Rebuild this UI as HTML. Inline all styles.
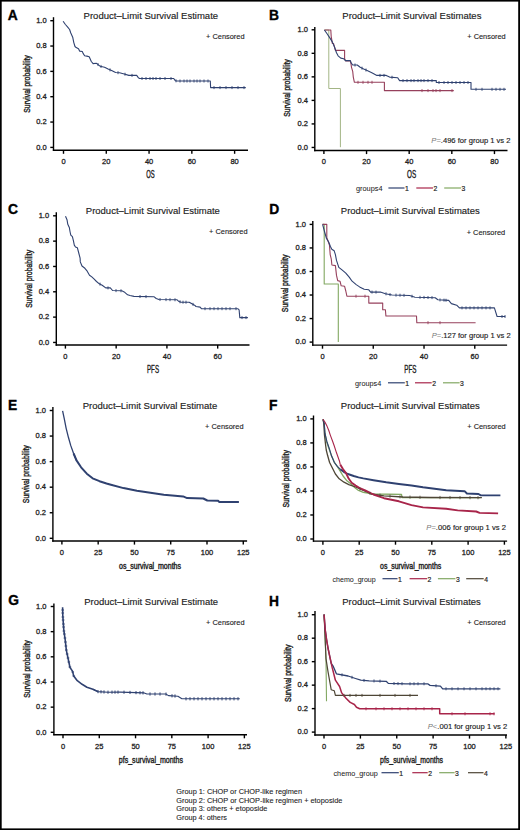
<!DOCTYPE html>
<html><head><meta charset="utf-8"><style>
html,body{margin:0;padding:0;background:#fff;}
body{width:520px;height:830px;overflow:hidden;}
svg{display:block;}
text{font-family:"Liberation Sans", sans-serif;}
</style></head><body>
<svg width="520" height="830" viewBox="0 0 520 830" font-family='"Liberation Sans", sans-serif'>
<rect x="0" y="0" width="520" height="830" fill="#fff"/>
<text x="7.86" y="19.60" font-size="13.8" text-anchor="start" font-weight="bold" fill="#000"  stroke="#000" stroke-width="0.35">A</text>
<text x="83.60" y="18.60" font-size="9.4" text-anchor="start" font-weight="normal" fill="#222" textLength="134.5" lengthAdjust="spacingAndGlyphs"  stroke="#222" stroke-width="0.15">Product–Limit Survival Estimate</text>
<text x="206.00" y="39.10" font-size="7.8" text-anchor="start" font-weight="normal" fill="#222" textLength="38.6" lengthAdjust="spacingAndGlyphs"  stroke="#222" stroke-width="0.12">+ Censored</text>
<line x1="53.50" y1="17.20" x2="53.50" y2="150.85" stroke="#000" stroke-width="1.4"/>
<line x1="50.30" y1="147.40" x2="53.50" y2="147.40" stroke="#000" stroke-width="1.4"/>
<text x="46.60" y="149.60" font-size="7.5" text-anchor="end" font-weight="normal" fill="#222"  stroke="#222" stroke-width="0.28">0.0</text>
<line x1="50.30" y1="122.06" x2="53.50" y2="122.06" stroke="#000" stroke-width="1.4"/>
<text x="46.60" y="124.26" font-size="7.5" text-anchor="end" font-weight="normal" fill="#222"  stroke="#222" stroke-width="0.28">0.2</text>
<line x1="50.30" y1="96.72" x2="53.50" y2="96.72" stroke="#000" stroke-width="1.4"/>
<text x="46.60" y="98.92" font-size="7.5" text-anchor="end" font-weight="normal" fill="#222"  stroke="#222" stroke-width="0.28">0.4</text>
<line x1="50.30" y1="71.38" x2="53.50" y2="71.38" stroke="#000" stroke-width="1.4"/>
<text x="46.60" y="73.58" font-size="7.5" text-anchor="end" font-weight="normal" fill="#222"  stroke="#222" stroke-width="0.28">0.6</text>
<line x1="50.30" y1="46.04" x2="53.50" y2="46.04" stroke="#000" stroke-width="1.4"/>
<text x="46.60" y="48.24" font-size="7.5" text-anchor="end" font-weight="normal" fill="#222"  stroke="#222" stroke-width="0.28">0.8</text>
<line x1="50.30" y1="20.70" x2="53.50" y2="20.70" stroke="#000" stroke-width="1.4"/>
<text x="46.60" y="22.90" font-size="7.5" text-anchor="end" font-weight="normal" fill="#222"  stroke="#222" stroke-width="0.28">1.0</text>
<line x1="52.85" y1="150.20" x2="248.00" y2="150.20" stroke="#000" stroke-width="1.4"/>
<line x1="63.50" y1="150.20" x2="63.50" y2="153.80" stroke="#000" stroke-width="1.4"/>
<text x="63.50" y="164.00" font-size="7.5" text-anchor="middle" font-weight="normal" fill="#222"  stroke="#222" stroke-width="0.28">0</text>
<line x1="106.28" y1="150.20" x2="106.28" y2="153.80" stroke="#000" stroke-width="1.4"/>
<text x="106.28" y="164.00" font-size="7.5" text-anchor="middle" font-weight="normal" fill="#222"  stroke="#222" stroke-width="0.28">20</text>
<line x1="149.06" y1="150.20" x2="149.06" y2="153.80" stroke="#000" stroke-width="1.4"/>
<text x="149.06" y="164.00" font-size="7.5" text-anchor="middle" font-weight="normal" fill="#222"  stroke="#222" stroke-width="0.28">40</text>
<line x1="191.84" y1="150.20" x2="191.84" y2="153.80" stroke="#000" stroke-width="1.4"/>
<text x="191.84" y="164.00" font-size="7.5" text-anchor="middle" font-weight="normal" fill="#222"  stroke="#222" stroke-width="0.28">60</text>
<line x1="234.62" y1="150.20" x2="234.62" y2="153.80" stroke="#000" stroke-width="1.4"/>
<text x="234.62" y="164.00" font-size="7.5" text-anchor="middle" font-weight="normal" fill="#222"  stroke="#222" stroke-width="0.28">80</text>
<text x="146.30" y="177.90" font-size="11" text-anchor="start" font-weight="normal" fill="#222" textLength="8.4" lengthAdjust="spacingAndGlyphs"  stroke="#222" stroke-width="0.4">OS</text>
<text transform="translate(29.70,84.00) rotate(-90)" x="0" y="0" font-size="9" text-anchor="middle" fill="#222" stroke="#222" stroke-width="0.4" textLength="57.5" lengthAdjust="spacingAndGlyphs">Survival probability</text>
<text x="269.10" y="19.60" font-size="13.8" text-anchor="start" font-weight="bold" fill="#000"  stroke="#000" stroke-width="0.35">B</text>
<text x="342.30" y="18.60" font-size="9.4" text-anchor="start" font-weight="normal" fill="#222" textLength="139.1" lengthAdjust="spacingAndGlyphs"  stroke="#222" stroke-width="0.15">Product–Limit Survival Estimates</text>
<text x="467.30" y="38.80" font-size="7.8" text-anchor="start" font-weight="normal" fill="#222" textLength="38.4" lengthAdjust="spacingAndGlyphs"  stroke="#222" stroke-width="0.12">+ Censored</text>
<line x1="314.80" y1="26.90" x2="314.80" y2="151.15" stroke="#000" stroke-width="1.4"/>
<line x1="311.60" y1="147.45" x2="314.80" y2="147.45" stroke="#000" stroke-width="1.4"/>
<text x="308.00" y="149.65" font-size="7.5" text-anchor="end" font-weight="normal" fill="#222"  stroke="#222" stroke-width="0.28">0.0</text>
<line x1="311.60" y1="123.92" x2="314.80" y2="123.92" stroke="#000" stroke-width="1.4"/>
<text x="308.00" y="126.12" font-size="7.5" text-anchor="end" font-weight="normal" fill="#222"  stroke="#222" stroke-width="0.28">0.2</text>
<line x1="311.60" y1="100.39" x2="314.80" y2="100.39" stroke="#000" stroke-width="1.4"/>
<text x="308.00" y="102.59" font-size="7.5" text-anchor="end" font-weight="normal" fill="#222"  stroke="#222" stroke-width="0.28">0.4</text>
<line x1="311.60" y1="76.86" x2="314.80" y2="76.86" stroke="#000" stroke-width="1.4"/>
<text x="308.00" y="79.06" font-size="7.5" text-anchor="end" font-weight="normal" fill="#222"  stroke="#222" stroke-width="0.28">0.6</text>
<line x1="311.60" y1="53.33" x2="314.80" y2="53.33" stroke="#000" stroke-width="1.4"/>
<text x="308.00" y="55.53" font-size="7.5" text-anchor="end" font-weight="normal" fill="#222"  stroke="#222" stroke-width="0.28">0.8</text>
<line x1="311.60" y1="29.80" x2="314.80" y2="29.80" stroke="#000" stroke-width="1.4"/>
<text x="308.00" y="32.00" font-size="7.5" text-anchor="end" font-weight="normal" fill="#222"  stroke="#222" stroke-width="0.28">1.0</text>
<line x1="314.15" y1="150.50" x2="507.50" y2="150.50" stroke="#000" stroke-width="1.4"/>
<line x1="323.90" y1="150.50" x2="323.90" y2="154.10" stroke="#000" stroke-width="1.4"/>
<text x="323.90" y="163.70" font-size="7.5" text-anchor="middle" font-weight="normal" fill="#222"  stroke="#222" stroke-width="0.28">0</text>
<line x1="366.54" y1="150.50" x2="366.54" y2="154.10" stroke="#000" stroke-width="1.4"/>
<text x="366.54" y="163.70" font-size="7.5" text-anchor="middle" font-weight="normal" fill="#222"  stroke="#222" stroke-width="0.28">20</text>
<line x1="409.18" y1="150.50" x2="409.18" y2="154.10" stroke="#000" stroke-width="1.4"/>
<text x="409.18" y="163.70" font-size="7.5" text-anchor="middle" font-weight="normal" fill="#222"  stroke="#222" stroke-width="0.28">40</text>
<line x1="451.82" y1="150.50" x2="451.82" y2="154.10" stroke="#000" stroke-width="1.4"/>
<text x="451.82" y="163.70" font-size="7.5" text-anchor="middle" font-weight="normal" fill="#222"  stroke="#222" stroke-width="0.28">60</text>
<line x1="494.46" y1="150.50" x2="494.46" y2="154.10" stroke="#000" stroke-width="1.4"/>
<text x="494.46" y="163.70" font-size="7.5" text-anchor="middle" font-weight="normal" fill="#222"  stroke="#222" stroke-width="0.28">80</text>
<text x="407.00" y="177.90" font-size="11" text-anchor="start" font-weight="normal" fill="#222" textLength="9.1" lengthAdjust="spacingAndGlyphs"  stroke="#222" stroke-width="0.4">OS</text>
<text transform="translate(290.30,88.00) rotate(-90)" x="0" y="0" font-size="9" text-anchor="middle" fill="#222" stroke="#222" stroke-width="0.4" textLength="57.5" lengthAdjust="spacingAndGlyphs">Survival probability</text>
<text x="7.95" y="214.40" font-size="13.8" text-anchor="start" font-weight="bold" fill="#000"  stroke="#000" stroke-width="0.35">C</text>
<text x="85.80" y="213.60" font-size="9.4" text-anchor="start" font-weight="normal" fill="#222" textLength="134.1" lengthAdjust="spacingAndGlyphs"  stroke="#222" stroke-width="0.15">Product–Limit Survival Estimate</text>
<text x="209.00" y="234.10" font-size="7.8" text-anchor="start" font-weight="normal" fill="#222" textLength="38.6" lengthAdjust="spacingAndGlyphs"  stroke="#222" stroke-width="0.12">+ Censored</text>
<line x1="56.30" y1="212.30" x2="56.30" y2="345.65" stroke="#000" stroke-width="1.4"/>
<line x1="53.10" y1="342.45" x2="56.30" y2="342.45" stroke="#000" stroke-width="1.4"/>
<text x="49.10" y="344.65" font-size="7.5" text-anchor="end" font-weight="normal" fill="#222"  stroke="#222" stroke-width="0.28">0.0</text>
<line x1="53.10" y1="317.12" x2="56.30" y2="317.12" stroke="#000" stroke-width="1.4"/>
<text x="49.10" y="319.32" font-size="7.5" text-anchor="end" font-weight="normal" fill="#222"  stroke="#222" stroke-width="0.28">0.2</text>
<line x1="53.10" y1="291.79" x2="56.30" y2="291.79" stroke="#000" stroke-width="1.4"/>
<text x="49.10" y="293.99" font-size="7.5" text-anchor="end" font-weight="normal" fill="#222"  stroke="#222" stroke-width="0.28">0.4</text>
<line x1="53.10" y1="266.46" x2="56.30" y2="266.46" stroke="#000" stroke-width="1.4"/>
<text x="49.10" y="268.66" font-size="7.5" text-anchor="end" font-weight="normal" fill="#222"  stroke="#222" stroke-width="0.28">0.6</text>
<line x1="53.10" y1="241.13" x2="56.30" y2="241.13" stroke="#000" stroke-width="1.4"/>
<text x="49.10" y="243.33" font-size="7.5" text-anchor="end" font-weight="normal" fill="#222"  stroke="#222" stroke-width="0.28">0.8</text>
<line x1="53.10" y1="215.80" x2="56.30" y2="215.80" stroke="#000" stroke-width="1.4"/>
<text x="49.10" y="218.00" font-size="7.5" text-anchor="end" font-weight="normal" fill="#222"  stroke="#222" stroke-width="0.28">1.0</text>
<line x1="55.65" y1="345.00" x2="249.50" y2="345.00" stroke="#000" stroke-width="1.4"/>
<line x1="65.40" y1="345.00" x2="65.40" y2="348.60" stroke="#000" stroke-width="1.4"/>
<text x="65.40" y="358.60" font-size="7.5" text-anchor="middle" font-weight="normal" fill="#222"  stroke="#222" stroke-width="0.28">0</text>
<line x1="116.16" y1="345.00" x2="116.16" y2="348.60" stroke="#000" stroke-width="1.4"/>
<text x="116.16" y="358.60" font-size="7.5" text-anchor="middle" font-weight="normal" fill="#222"  stroke="#222" stroke-width="0.28">20</text>
<line x1="166.92" y1="345.00" x2="166.92" y2="348.60" stroke="#000" stroke-width="1.4"/>
<text x="166.92" y="358.60" font-size="7.5" text-anchor="middle" font-weight="normal" fill="#222"  stroke="#222" stroke-width="0.28">40</text>
<line x1="217.68" y1="345.00" x2="217.68" y2="348.60" stroke="#000" stroke-width="1.4"/>
<text x="217.68" y="358.60" font-size="7.5" text-anchor="middle" font-weight="normal" fill="#222"  stroke="#222" stroke-width="0.28">60</text>
<text x="147.00" y="372.90" font-size="11" text-anchor="start" font-weight="normal" fill="#222" textLength="12.0" lengthAdjust="spacingAndGlyphs"  stroke="#222" stroke-width="0.4">PFS</text>
<text transform="translate(31.60,278.80) rotate(-90)" x="0" y="0" font-size="9" text-anchor="middle" fill="#222" stroke="#222" stroke-width="0.4" textLength="58.0" lengthAdjust="spacingAndGlyphs">Survival probability</text>
<text x="269.30" y="214.30" font-size="13.8" text-anchor="start" font-weight="bold" fill="#000"  stroke="#000" stroke-width="0.35">D</text>
<text x="340.80" y="213.60" font-size="9.4" text-anchor="start" font-weight="normal" fill="#222" textLength="139.0" lengthAdjust="spacingAndGlyphs"  stroke="#222" stroke-width="0.15">Product–Limit Survival Estimates</text>
<text x="466.70" y="234.50" font-size="7.8" text-anchor="start" font-weight="normal" fill="#222" textLength="38.5" lengthAdjust="spacingAndGlyphs"  stroke="#222" stroke-width="0.12">+ Censored</text>
<line x1="312.80" y1="221.10" x2="312.80" y2="345.75" stroke="#000" stroke-width="1.4"/>
<line x1="309.60" y1="342.10" x2="312.80" y2="342.10" stroke="#000" stroke-width="1.4"/>
<text x="306.00" y="344.30" font-size="7.5" text-anchor="end" font-weight="normal" fill="#222"  stroke="#222" stroke-width="0.28">0.0</text>
<line x1="309.60" y1="318.56" x2="312.80" y2="318.56" stroke="#000" stroke-width="1.4"/>
<text x="306.00" y="320.76" font-size="7.5" text-anchor="end" font-weight="normal" fill="#222"  stroke="#222" stroke-width="0.28">0.2</text>
<line x1="309.60" y1="295.02" x2="312.80" y2="295.02" stroke="#000" stroke-width="1.4"/>
<text x="306.00" y="297.22" font-size="7.5" text-anchor="end" font-weight="normal" fill="#222"  stroke="#222" stroke-width="0.28">0.4</text>
<line x1="309.60" y1="271.48" x2="312.80" y2="271.48" stroke="#000" stroke-width="1.4"/>
<text x="306.00" y="273.68" font-size="7.5" text-anchor="end" font-weight="normal" fill="#222"  stroke="#222" stroke-width="0.28">0.6</text>
<line x1="309.60" y1="247.94" x2="312.80" y2="247.94" stroke="#000" stroke-width="1.4"/>
<text x="306.00" y="250.14" font-size="7.5" text-anchor="end" font-weight="normal" fill="#222"  stroke="#222" stroke-width="0.28">0.8</text>
<line x1="309.60" y1="224.40" x2="312.80" y2="224.40" stroke="#000" stroke-width="1.4"/>
<text x="306.00" y="226.60" font-size="7.5" text-anchor="end" font-weight="normal" fill="#222"  stroke="#222" stroke-width="0.28">1.0</text>
<line x1="312.15" y1="345.10" x2="507.10" y2="345.10" stroke="#000" stroke-width="1.4"/>
<line x1="322.50" y1="345.10" x2="322.50" y2="348.70" stroke="#000" stroke-width="1.4"/>
<text x="322.50" y="358.60" font-size="7.5" text-anchor="middle" font-weight="normal" fill="#222"  stroke="#222" stroke-width="0.28">0</text>
<line x1="373.26" y1="345.10" x2="373.26" y2="348.70" stroke="#000" stroke-width="1.4"/>
<text x="373.26" y="358.60" font-size="7.5" text-anchor="middle" font-weight="normal" fill="#222"  stroke="#222" stroke-width="0.28">20</text>
<line x1="424.02" y1="345.10" x2="424.02" y2="348.70" stroke="#000" stroke-width="1.4"/>
<text x="424.02" y="358.60" font-size="7.5" text-anchor="middle" font-weight="normal" fill="#222"  stroke="#222" stroke-width="0.28">40</text>
<line x1="474.78" y1="345.10" x2="474.78" y2="348.70" stroke="#000" stroke-width="1.4"/>
<text x="474.78" y="358.60" font-size="7.5" text-anchor="middle" font-weight="normal" fill="#222"  stroke="#222" stroke-width="0.28">60</text>
<text x="404.30" y="372.70" font-size="11" text-anchor="start" font-weight="normal" fill="#222" textLength="12.2" lengthAdjust="spacingAndGlyphs"  stroke="#222" stroke-width="0.4">PFS</text>
<text transform="translate(288.30,283.40) rotate(-90)" x="0" y="0" font-size="9" text-anchor="middle" fill="#222" stroke="#222" stroke-width="0.4" textLength="57.5" lengthAdjust="spacingAndGlyphs">Survival probability</text>
<text x="7.90" y="409.60" font-size="13.8" text-anchor="start" font-weight="bold" fill="#000"  stroke="#000" stroke-width="0.35">E</text>
<text x="82.70" y="408.60" font-size="9.4" text-anchor="start" font-weight="normal" fill="#222" textLength="134.5" lengthAdjust="spacingAndGlyphs"  stroke="#222" stroke-width="0.15">Product–Limit Survival Estimate</text>
<text x="205.00" y="429.10" font-size="7.8" text-anchor="start" font-weight="normal" fill="#222" textLength="38.6" lengthAdjust="spacingAndGlyphs"  stroke="#222" stroke-width="0.12">+ Censored</text>
<line x1="52.90" y1="406.90" x2="52.90" y2="541.65" stroke="#000" stroke-width="1.4"/>
<line x1="49.70" y1="538.30" x2="52.90" y2="538.30" stroke="#000" stroke-width="1.4"/>
<text x="46.00" y="540.50" font-size="7.5" text-anchor="end" font-weight="normal" fill="#222"  stroke="#222" stroke-width="0.28">0.0</text>
<line x1="49.70" y1="512.74" x2="52.90" y2="512.74" stroke="#000" stroke-width="1.4"/>
<text x="46.00" y="514.94" font-size="7.5" text-anchor="end" font-weight="normal" fill="#222"  stroke="#222" stroke-width="0.28">0.2</text>
<line x1="49.70" y1="487.18" x2="52.90" y2="487.18" stroke="#000" stroke-width="1.4"/>
<text x="46.00" y="489.38" font-size="7.5" text-anchor="end" font-weight="normal" fill="#222"  stroke="#222" stroke-width="0.28">0.4</text>
<line x1="49.70" y1="461.62" x2="52.90" y2="461.62" stroke="#000" stroke-width="1.4"/>
<text x="46.00" y="463.82" font-size="7.5" text-anchor="end" font-weight="normal" fill="#222"  stroke="#222" stroke-width="0.28">0.6</text>
<line x1="49.70" y1="436.06" x2="52.90" y2="436.06" stroke="#000" stroke-width="1.4"/>
<text x="46.00" y="438.26" font-size="7.5" text-anchor="end" font-weight="normal" fill="#222"  stroke="#222" stroke-width="0.28">0.8</text>
<line x1="49.70" y1="410.50" x2="52.90" y2="410.50" stroke="#000" stroke-width="1.4"/>
<text x="46.00" y="412.70" font-size="7.5" text-anchor="end" font-weight="normal" fill="#222"  stroke="#222" stroke-width="0.28">1.0</text>
<line x1="52.25" y1="541.00" x2="247.10" y2="541.00" stroke="#000" stroke-width="1.4"/>
<line x1="61.90" y1="541.00" x2="61.90" y2="544.60" stroke="#000" stroke-width="1.4"/>
<text x="61.90" y="554.60" font-size="7.5" text-anchor="middle" font-weight="normal" fill="#222"  stroke="#222" stroke-width="0.28">0</text>
<line x1="98.17" y1="541.00" x2="98.17" y2="544.60" stroke="#000" stroke-width="1.4"/>
<text x="98.17" y="554.60" font-size="7.5" text-anchor="middle" font-weight="normal" fill="#222"  stroke="#222" stroke-width="0.28">25</text>
<line x1="134.45" y1="541.00" x2="134.45" y2="544.60" stroke="#000" stroke-width="1.4"/>
<text x="134.45" y="554.60" font-size="7.5" text-anchor="middle" font-weight="normal" fill="#222"  stroke="#222" stroke-width="0.28">50</text>
<line x1="170.72" y1="541.00" x2="170.72" y2="544.60" stroke="#000" stroke-width="1.4"/>
<text x="170.72" y="554.60" font-size="7.5" text-anchor="middle" font-weight="normal" fill="#222"  stroke="#222" stroke-width="0.28">75</text>
<line x1="207.00" y1="541.00" x2="207.00" y2="544.60" stroke="#000" stroke-width="1.4"/>
<text x="207.00" y="554.60" font-size="7.5" text-anchor="middle" font-weight="normal" fill="#222"  stroke="#222" stroke-width="0.28">100</text>
<line x1="243.28" y1="541.00" x2="243.28" y2="544.60" stroke="#000" stroke-width="1.4"/>
<text x="243.28" y="554.60" font-size="7.5" text-anchor="middle" font-weight="normal" fill="#222"  stroke="#222" stroke-width="0.28">125</text>
<text x="119.00" y="568.50" font-size="8.3" text-anchor="start" font-weight="normal" fill="#222" textLength="62.0" lengthAdjust="spacingAndGlyphs"  stroke="#222" stroke-width="0.4">os_survival_months</text>
<text transform="translate(28.60,474.20) rotate(-90)" x="0" y="0" font-size="9" text-anchor="middle" fill="#222" stroke="#222" stroke-width="0.4" textLength="58.0" lengthAdjust="spacingAndGlyphs">Survival probability</text>
<text x="269.10" y="409.60" font-size="13.8" text-anchor="start" font-weight="bold" fill="#000"  stroke="#000" stroke-width="0.35">F</text>
<text x="340.80" y="408.60" font-size="9.4" text-anchor="start" font-weight="normal" fill="#222" textLength="139.0" lengthAdjust="spacingAndGlyphs"  stroke="#222" stroke-width="0.15">Product–Limit Survival Estimates</text>
<text x="467.30" y="429.10" font-size="7.8" text-anchor="start" font-weight="normal" fill="#222" textLength="38.4" lengthAdjust="spacingAndGlyphs"  stroke="#222" stroke-width="0.12">+ Censored</text>
<line x1="313.50" y1="415.50" x2="313.50" y2="541.75" stroke="#000" stroke-width="1.4"/>
<line x1="310.30" y1="539.00" x2="313.50" y2="539.00" stroke="#000" stroke-width="1.4"/>
<text x="306.60" y="541.20" font-size="7.5" text-anchor="end" font-weight="normal" fill="#222"  stroke="#222" stroke-width="0.28">0.0</text>
<line x1="310.30" y1="514.98" x2="313.50" y2="514.98" stroke="#000" stroke-width="1.4"/>
<text x="306.60" y="517.18" font-size="7.5" text-anchor="end" font-weight="normal" fill="#222"  stroke="#222" stroke-width="0.28">0.2</text>
<line x1="310.30" y1="490.96" x2="313.50" y2="490.96" stroke="#000" stroke-width="1.4"/>
<text x="306.60" y="493.16" font-size="7.5" text-anchor="end" font-weight="normal" fill="#222"  stroke="#222" stroke-width="0.28">0.4</text>
<line x1="310.30" y1="466.94" x2="313.50" y2="466.94" stroke="#000" stroke-width="1.4"/>
<text x="306.60" y="469.14" font-size="7.5" text-anchor="end" font-weight="normal" fill="#222"  stroke="#222" stroke-width="0.28">0.6</text>
<line x1="310.30" y1="442.92" x2="313.50" y2="442.92" stroke="#000" stroke-width="1.4"/>
<text x="306.60" y="445.12" font-size="7.5" text-anchor="end" font-weight="normal" fill="#222"  stroke="#222" stroke-width="0.28">0.8</text>
<line x1="310.30" y1="418.90" x2="313.50" y2="418.90" stroke="#000" stroke-width="1.4"/>
<text x="306.60" y="421.10" font-size="7.5" text-anchor="end" font-weight="normal" fill="#222"  stroke="#222" stroke-width="0.28">1.0</text>
<line x1="312.85" y1="541.10" x2="507.10" y2="541.10" stroke="#000" stroke-width="1.4"/>
<line x1="322.90" y1="541.10" x2="322.90" y2="544.70" stroke="#000" stroke-width="1.4"/>
<text x="322.90" y="554.60" font-size="7.5" text-anchor="middle" font-weight="normal" fill="#222"  stroke="#222" stroke-width="0.28">0</text>
<line x1="359.20" y1="541.10" x2="359.20" y2="544.70" stroke="#000" stroke-width="1.4"/>
<text x="359.20" y="554.60" font-size="7.5" text-anchor="middle" font-weight="normal" fill="#222"  stroke="#222" stroke-width="0.28">25</text>
<line x1="395.50" y1="541.10" x2="395.50" y2="544.70" stroke="#000" stroke-width="1.4"/>
<text x="395.50" y="554.60" font-size="7.5" text-anchor="middle" font-weight="normal" fill="#222"  stroke="#222" stroke-width="0.28">50</text>
<line x1="431.80" y1="541.10" x2="431.80" y2="544.70" stroke="#000" stroke-width="1.4"/>
<text x="431.80" y="554.60" font-size="7.5" text-anchor="middle" font-weight="normal" fill="#222"  stroke="#222" stroke-width="0.28">75</text>
<line x1="468.10" y1="541.10" x2="468.10" y2="544.70" stroke="#000" stroke-width="1.4"/>
<text x="468.10" y="554.60" font-size="7.5" text-anchor="middle" font-weight="normal" fill="#222"  stroke="#222" stroke-width="0.28">100</text>
<line x1="504.40" y1="541.10" x2="504.40" y2="544.70" stroke="#000" stroke-width="1.4"/>
<text x="504.40" y="554.60" font-size="7.5" text-anchor="middle" font-weight="normal" fill="#222"  stroke="#222" stroke-width="0.28">125</text>
<text x="380.10" y="569.00" font-size="8.5" text-anchor="start" font-weight="normal" fill="#222" textLength="61.1" lengthAdjust="spacingAndGlyphs"  stroke="#222" stroke-width="0.4">os_survival_months</text>
<text transform="translate(289.40,478.80) rotate(-90)" x="0" y="0" font-size="9" text-anchor="middle" fill="#222" stroke="#222" stroke-width="0.4" textLength="57.5" lengthAdjust="spacingAndGlyphs">Survival probability</text>
<text x="8.25" y="605.40" font-size="13.8" text-anchor="start" font-weight="bold" fill="#000"  stroke="#000" stroke-width="0.35">G</text>
<text x="84.20" y="605.20" font-size="9.4" text-anchor="start" font-weight="normal" fill="#222" textLength="133.9" lengthAdjust="spacingAndGlyphs"  stroke="#222" stroke-width="0.15">Product–Limit Survival Estimate</text>
<text x="206.00" y="625.10" font-size="7.8" text-anchor="start" font-weight="normal" fill="#222" textLength="38.6" lengthAdjust="spacingAndGlyphs"  stroke="#222" stroke-width="0.12">+ Censored</text>
<line x1="53.90" y1="603.50" x2="53.90" y2="735.35" stroke="#000" stroke-width="1.4"/>
<line x1="50.70" y1="732.30" x2="53.90" y2="732.30" stroke="#000" stroke-width="1.4"/>
<text x="46.55" y="734.50" font-size="7.5" text-anchor="end" font-weight="normal" fill="#222"  stroke="#222" stroke-width="0.28">0.0</text>
<line x1="50.70" y1="707.14" x2="53.90" y2="707.14" stroke="#000" stroke-width="1.4"/>
<text x="46.55" y="709.34" font-size="7.5" text-anchor="end" font-weight="normal" fill="#222"  stroke="#222" stroke-width="0.28">0.2</text>
<line x1="50.70" y1="681.98" x2="53.90" y2="681.98" stroke="#000" stroke-width="1.4"/>
<text x="46.55" y="684.18" font-size="7.5" text-anchor="end" font-weight="normal" fill="#222"  stroke="#222" stroke-width="0.28">0.4</text>
<line x1="50.70" y1="656.82" x2="53.90" y2="656.82" stroke="#000" stroke-width="1.4"/>
<text x="46.55" y="659.02" font-size="7.5" text-anchor="end" font-weight="normal" fill="#222"  stroke="#222" stroke-width="0.28">0.6</text>
<line x1="50.70" y1="631.66" x2="53.90" y2="631.66" stroke="#000" stroke-width="1.4"/>
<text x="46.55" y="633.86" font-size="7.5" text-anchor="end" font-weight="normal" fill="#222"  stroke="#222" stroke-width="0.28">0.8</text>
<line x1="50.70" y1="606.50" x2="53.90" y2="606.50" stroke="#000" stroke-width="1.4"/>
<text x="46.55" y="608.70" font-size="7.5" text-anchor="end" font-weight="normal" fill="#222"  stroke="#222" stroke-width="0.28">1.0</text>
<line x1="53.25" y1="734.70" x2="247.00" y2="734.70" stroke="#000" stroke-width="1.4"/>
<line x1="63.00" y1="734.70" x2="63.00" y2="738.30" stroke="#000" stroke-width="1.4"/>
<text x="63.00" y="748.60" font-size="7.5" text-anchor="middle" font-weight="normal" fill="#222"  stroke="#222" stroke-width="0.28">0</text>
<line x1="99.28" y1="734.70" x2="99.28" y2="738.30" stroke="#000" stroke-width="1.4"/>
<text x="99.28" y="748.60" font-size="7.5" text-anchor="middle" font-weight="normal" fill="#222"  stroke="#222" stroke-width="0.28">25</text>
<line x1="135.55" y1="734.70" x2="135.55" y2="738.30" stroke="#000" stroke-width="1.4"/>
<text x="135.55" y="748.60" font-size="7.5" text-anchor="middle" font-weight="normal" fill="#222"  stroke="#222" stroke-width="0.28">50</text>
<line x1="171.82" y1="734.70" x2="171.82" y2="738.30" stroke="#000" stroke-width="1.4"/>
<text x="171.82" y="748.60" font-size="7.5" text-anchor="middle" font-weight="normal" fill="#222"  stroke="#222" stroke-width="0.28">75</text>
<line x1="208.10" y1="734.70" x2="208.10" y2="738.30" stroke="#000" stroke-width="1.4"/>
<text x="208.10" y="748.60" font-size="7.5" text-anchor="middle" font-weight="normal" fill="#222"  stroke="#222" stroke-width="0.28">100</text>
<line x1="244.38" y1="734.70" x2="244.38" y2="738.30" stroke="#000" stroke-width="1.4"/>
<text x="244.38" y="748.60" font-size="7.5" text-anchor="middle" font-weight="normal" fill="#222"  stroke="#222" stroke-width="0.28">125</text>
<text x="118.80" y="762.60" font-size="9.2" text-anchor="start" font-weight="normal" fill="#222" textLength="64.2" lengthAdjust="spacingAndGlyphs"  stroke="#222" stroke-width="0.4">pfs_survival_months</text>
<text transform="translate(29.70,669.00) rotate(-90)" x="0" y="0" font-size="9" text-anchor="middle" fill="#222" stroke="#222" stroke-width="0.4" textLength="57.5" lengthAdjust="spacingAndGlyphs">Survival probability</text>
<text x="269.10" y="605.70" font-size="13.8" text-anchor="start" font-weight="bold" fill="#000"  stroke="#000" stroke-width="0.35">H</text>
<text x="342.30" y="605.20" font-size="9.4" text-anchor="start" font-weight="normal" fill="#222" textLength="138.5" lengthAdjust="spacingAndGlyphs"  stroke="#222" stroke-width="0.15">Product–Limit Survival Estimates</text>
<text x="467.30" y="625.10" font-size="7.8" text-anchor="start" font-weight="normal" fill="#222" textLength="38.4" lengthAdjust="spacingAndGlyphs"  stroke="#222" stroke-width="0.12">+ Censored</text>
<line x1="315.00" y1="611.10" x2="315.00" y2="735.65" stroke="#000" stroke-width="1.4"/>
<line x1="311.80" y1="732.10" x2="315.00" y2="732.10" stroke="#000" stroke-width="1.4"/>
<text x="308.00" y="734.30" font-size="7.5" text-anchor="end" font-weight="normal" fill="#222"  stroke="#222" stroke-width="0.28">0.0</text>
<line x1="311.80" y1="708.62" x2="315.00" y2="708.62" stroke="#000" stroke-width="1.4"/>
<text x="308.00" y="710.82" font-size="7.5" text-anchor="end" font-weight="normal" fill="#222"  stroke="#222" stroke-width="0.28">0.2</text>
<line x1="311.80" y1="685.14" x2="315.00" y2="685.14" stroke="#000" stroke-width="1.4"/>
<text x="308.00" y="687.34" font-size="7.5" text-anchor="end" font-weight="normal" fill="#222"  stroke="#222" stroke-width="0.28">0.4</text>
<line x1="311.80" y1="661.66" x2="315.00" y2="661.66" stroke="#000" stroke-width="1.4"/>
<text x="308.00" y="663.86" font-size="7.5" text-anchor="end" font-weight="normal" fill="#222"  stroke="#222" stroke-width="0.28">0.6</text>
<line x1="311.80" y1="638.18" x2="315.00" y2="638.18" stroke="#000" stroke-width="1.4"/>
<text x="308.00" y="640.38" font-size="7.5" text-anchor="end" font-weight="normal" fill="#222"  stroke="#222" stroke-width="0.28">0.8</text>
<line x1="311.80" y1="614.70" x2="315.00" y2="614.70" stroke="#000" stroke-width="1.4"/>
<text x="308.00" y="616.90" font-size="7.5" text-anchor="end" font-weight="normal" fill="#222"  stroke="#222" stroke-width="0.28">1.0</text>
<line x1="314.35" y1="735.00" x2="507.00" y2="735.00" stroke="#000" stroke-width="1.4"/>
<line x1="324.00" y1="735.00" x2="324.00" y2="738.60" stroke="#000" stroke-width="1.4"/>
<text x="324.00" y="748.70" font-size="7.5" text-anchor="middle" font-weight="normal" fill="#222"  stroke="#222" stroke-width="0.28">0</text>
<line x1="360.38" y1="735.00" x2="360.38" y2="738.60" stroke="#000" stroke-width="1.4"/>
<text x="360.38" y="748.70" font-size="7.5" text-anchor="middle" font-weight="normal" fill="#222"  stroke="#222" stroke-width="0.28">25</text>
<line x1="396.75" y1="735.00" x2="396.75" y2="738.60" stroke="#000" stroke-width="1.4"/>
<text x="396.75" y="748.70" font-size="7.5" text-anchor="middle" font-weight="normal" fill="#222"  stroke="#222" stroke-width="0.28">50</text>
<line x1="433.12" y1="735.00" x2="433.12" y2="738.60" stroke="#000" stroke-width="1.4"/>
<text x="433.12" y="748.70" font-size="7.5" text-anchor="middle" font-weight="normal" fill="#222"  stroke="#222" stroke-width="0.28">75</text>
<line x1="469.50" y1="735.00" x2="469.50" y2="738.60" stroke="#000" stroke-width="1.4"/>
<text x="469.50" y="748.70" font-size="7.5" text-anchor="middle" font-weight="normal" fill="#222"  stroke="#222" stroke-width="0.28">100</text>
<line x1="505.88" y1="735.00" x2="505.88" y2="738.60" stroke="#000" stroke-width="1.4"/>
<text x="505.88" y="748.70" font-size="7.5" text-anchor="middle" font-weight="normal" fill="#222"  stroke="#222" stroke-width="0.28">125</text>
<text x="380.10" y="763.20" font-size="9.2" text-anchor="start" font-weight="normal" fill="#222" textLength="62.9" lengthAdjust="spacingAndGlyphs"  stroke="#222" stroke-width="0.4">pfs_survival_months</text>
<text transform="translate(290.80,673.30) rotate(-90)" x="0" y="0" font-size="9" text-anchor="middle" fill="#222" stroke="#222" stroke-width="0.4" textLength="57.5" lengthAdjust="spacingAndGlyphs">Survival probability</text>
<polyline points="63.10,21.20 65.40,24.50 67.70,27.20 69.60,29.50 70.80,33.00 72.70,37.20 73.80,42.60 75.00,46.50 76.20,47.60 78.50,48.80 79.60,51.10 82.30,51.50 83.10,53.40 84.60,55.70 86.90,56.10 89.20,56.80 91.30,61.50 93.10,63.60 96.50,63.30 100.00,66.20 104.60,67.30 108.10,69.00 112.10,70.80 115.60,72.50 119.60,72.80 124.20,74.00 128.80,75.40 136.70,75.40 138.10,77.40 139.40,78.50 173.70,78.50 175.10,80.40 176.40,81.00 210.30,81.00 210.60,87.60 245.80,87.60" fill="none" stroke="#2f4170" stroke-width="1.1" stroke-linejoin="round" />
<path d="M98.00,63.04v3.00M101.00,64.94v3.00M110.00,68.36v3.00M118.00,71.18v3.00M125.00,72.74v3.00M132.00,73.90v3.00M142.00,77.00v3.00M146.00,77.00v3.00M150.00,77.00v3.00M153.00,77.00v3.00M156.00,77.00v3.00M160.00,77.00v3.00M165.00,77.00v3.00M171.00,77.00v3.00M176.00,79.32v3.00M180.00,79.50v3.00M184.00,79.50v3.00M187.00,79.50v3.00M190.00,79.50v3.00M194.00,79.50v3.00M197.00,79.50v3.00M200.00,79.50v3.00M204.00,79.50v3.00M208.00,79.50v3.00M214.00,86.10v3.00M220.00,86.10v3.00M226.00,86.10v3.00M232.00,86.10v3.00M238.00,86.10v3.00M244.00,86.10v3.00" stroke="#2f4170" stroke-width="0.9" fill="none"/>
<polyline points="324.40,30.00 328.80,30.00 328.80,88.50 340.40,88.50 340.40,147.20" fill="none" stroke="#a3b585" stroke-width="1.0" stroke-linejoin="round" />
<polyline points="324.40,30.00 330.80,30.00 331.20,36.50 331.90,40.40 332.30,43.50 333.50,43.50 334.20,45.80 335.40,50.40 344.60,50.40 344.60,58.70 345.80,61.00 350.40,61.00 351.00,63.80 351.50,67.30 352.70,71.30 353.30,77.10 354.40,82.30 384.40,82.30 384.40,90.60 453.80,90.60" fill="none" stroke="#96405c" stroke-width="1.1" stroke-linejoin="round" />
<polyline points="324.40,30.00 326.90,33.50 330.00,38.10 332.30,41.90 334.60,47.30 336.50,52.70 338.10,55.80 340.80,58.10 343.80,58.80 345.40,60.60 350.40,60.60 351.00,62.70 352.70,65.00 357.30,65.00 360.20,67.30 363.70,69.00 367.70,70.80 372.30,73.10 376.90,75.40 386.20,75.40 389.60,77.10 397.70,77.70 399.60,80.60 436.30,80.60 436.30,82.50 471.00,82.50 471.00,89.30 506.00,89.30" fill="none" stroke="#2f4170" stroke-width="1.1" stroke-linejoin="round" />
<path d="M355.00,63.50v3.00M362.00,66.67v3.00M366.00,68.53v3.00M380.00,73.90v3.00M384.00,73.90v3.00M392.00,75.78v3.00M403.00,79.10v3.00M407.00,79.10v3.00M411.00,79.10v3.00M414.00,79.10v3.00M418.00,79.10v3.00M421.00,79.10v3.00M424.00,79.10v3.00M428.00,79.10v3.00M432.00,79.10v3.00M439.00,81.00v3.00M444.00,81.00v3.00M448.00,81.00v3.00M452.00,81.00v3.00M456.00,81.00v3.00M460.00,81.00v3.00M464.00,81.00v3.00M468.00,81.00v3.00M476.00,87.80v3.00M482.00,87.80v3.00M492.00,87.80v3.00M496.00,87.80v3.00M500.00,87.80v3.00M504.00,87.80v3.00" stroke="#2f4170" stroke-width="0.9" fill="none"/>
<path d="M358.00,80.80v3.00M363.00,80.80v3.00M368.00,80.80v3.00M372.00,80.80v3.00M422.00,89.10v3.00M428.00,89.10v3.00M433.00,89.10v3.00M436.00,89.10v3.00M440.00,89.10v3.00M452.00,89.10v3.00" stroke="#96405c" stroke-width="0.9" fill="none"/>
<polyline points="65.50,216.20 67.00,219.70 67.80,224.30 69.30,227.40 70.10,232.00 70.80,235.10 72.40,236.60 73.50,241.20 74.30,245.10 75.50,247.00 77.40,247.80 78.50,252.00 80.10,258.20 80.30,261.90 82.00,266.00 84.90,268.30 87.20,271.20 89.50,275.20 91.80,276.90 94.20,279.20 96.50,281.50 99.30,283.80 102.20,285.20 105.70,287.90 110.30,287.90 112.60,290.50 121.80,290.80 124.20,291.90 127.60,294.80 130.00,295.50 134.00,296.40 154.20,296.80 156.20,298.50 158.90,299.50 177.10,299.80 178.50,301.20 181.10,302.20 189.20,302.20 191.90,303.80 194.60,305.20 196.00,306.50 200.10,307.10 201.40,308.70 237.80,308.70 239.10,309.80 239.80,317.60 247.90,317.60" fill="none" stroke="#2f4170" stroke-width="1.1" stroke-linejoin="round" />
<path d="M100.00,282.64v3.00M108.00,286.40v3.00M116.00,289.11v3.00M121.00,289.27v3.00M140.00,295.02v3.00M146.00,295.14v3.00M160.00,298.02v3.00M166.00,298.12v3.00M170.00,298.18v3.00M175.00,298.27v3.00M180.00,300.28v3.00M183.00,300.70v3.00M186.00,300.70v3.00M193.00,302.87v3.00M205.00,307.20v3.00M210.00,307.20v3.00M214.00,307.20v3.00M218.00,307.20v3.00M222.00,307.20v3.00M226.00,307.20v3.00M230.00,307.20v3.00M236.00,307.20v3.00M242.00,316.10v3.00M246.00,316.10v3.00" stroke="#2f4170" stroke-width="0.9" fill="none"/>
<polyline points="322.60,224.40 324.20,224.40 324.20,284.00 338.30,284.00 338.30,342.10" fill="none" stroke="#82a862" stroke-width="1.1" stroke-linejoin="round" />
<polyline points="322.60,224.40 326.80,224.40 326.80,237.70 328.00,240.80 329.50,245.40 329.90,250.80 330.20,254.60 331.30,259.20 331.90,265.00 335.40,265.60 336.50,275.40 337.70,280.60 340.00,281.20 341.20,285.80 344.60,286.30 345.80,291.00 346.90,296.20 368.80,296.20 368.80,303.10 382.70,303.10 382.70,309.80 385.40,309.80 385.90,316.00 416.50,316.00 416.80,322.70 475.60,322.70" fill="none" stroke="#96405c" stroke-width="1.1" stroke-linejoin="round" />
<polyline points="322.60,224.40 324.50,231.50 326.50,238.50 328.80,242.30 330.30,246.20 331.80,249.20 334.20,250.80 335.40,254.60 336.50,260.40 338.80,267.30 342.30,270.20 345.80,273.10 349.20,277.10 352.10,281.20 356.20,284.60 359.60,286.90 364.20,289.20 368.80,289.80 370.60,292.10 380.40,292.10 385.40,293.70 392.10,295.00 409.60,295.50 415.00,297.20 435.20,297.70 437.90,299.80 448.70,300.40 451.40,303.60 456.70,305.20 459.40,307.90 494.40,307.90 497.10,316.50 505.20,316.50" fill="none" stroke="#2f4170" stroke-width="1.1" stroke-linejoin="round" />
<path d="M372.00,290.60v3.00M376.00,290.60v3.00M386.00,292.32v3.00M390.00,293.09v3.00M396.00,293.61v3.00M400.00,293.73v3.00M404.00,293.84v3.00M412.00,294.76v3.00M420.00,295.82v3.00M424.00,295.92v3.00M428.00,296.02v3.00M432.00,296.12v3.00M440.00,298.42v3.00M444.00,298.64v3.00M446.00,298.75v3.00M462.00,306.40v3.00M466.00,306.40v3.00M470.00,306.40v3.00M474.00,306.40v3.00M478.00,306.40v3.00M482.00,306.40v3.00M486.00,306.40v3.00M490.00,306.40v3.00M502.00,315.00v3.00M505.00,315.00v3.00" stroke="#2f4170" stroke-width="0.9" fill="none"/>
<path d="M356.00,294.70v3.00M365.00,294.70v3.00M428.00,321.20v3.00M440.00,321.20v3.00" stroke="#96405c" stroke-width="0.9" fill="none"/>
<polyline points="62.60,410.80 64.30,418.80 66.10,428.10 68.40,437.30 70.70,445.40 73.60,453.50 76.50,460.40" fill="none" stroke="#2f4170" stroke-width="1.3" stroke-linejoin="round" />
<polyline points="73.60,453.50 76.50,460.40 81.10,467.30 86.80,473.70 92.60,478.30 99.50,481.20 106.50,483.50 110.00,484.50 123.50,488.10 136.90,490.80 150.40,492.80 163.80,494.80 175.00,495.80 183.10,496.40 187.10,498.10 203.30,498.50 207.30,500.50 218.10,500.70 219.40,502.10 238.90,502.10" fill="none" stroke="#2f4170" stroke-width="2.0" stroke-linejoin="round" />
<polyline points="323.00,419.30 324.20,423.50 324.90,433.50 326.50,441.20 328.80,448.20 331.50,455.80 334.40,462.50 337.30,466.30 340.20,471.20 343.10,476.00 346.90,480.80 350.80,483.70 354.60,487.50 358.50,490.40 363.30,492.30 373.50,494.00 401.50,494.40 402.00,497.50 440.00,497.70 480.50,497.70" fill="none" stroke="#82a862" stroke-width="1.3" stroke-linejoin="round" />
<polyline points="323.00,419.30 323.80,423.50 324.50,435.10 325.70,445.80 326.25,450.00 327.70,455.80 329.60,462.50 332.50,468.30 335.40,474.00 339.20,478.80 344.00,482.20 348.80,484.60 355.60,487.00 363.30,490.40 371.30,494.00 384.00,495.80 403.00,497.00 430.00,497.50 481.90,497.70" fill="none" stroke="#4e4636" stroke-width="1.3" stroke-linejoin="round" />
<polyline points="323.00,419.30 324.20,423.50 325.00,433.50 326.80,441.20 329.20,448.20 331.50,455.80 334.40,462.50 337.30,466.30 340.20,469.20" fill="none" stroke="#2f4170" stroke-width="1.1" stroke-linejoin="round" />
<polyline points="340.20,469.20 344.00,472.10 347.90,474.00 353.70,476.00 358.50,477.40 363.30,478.40 373.50,480.20 386.20,482.30 398.90,484.00 411.50,485.50 423.00,487.30 446.20,490.30 464.60,491.20 466.90,493.50 478.50,494.00 480.80,495.40 500.40,495.40" fill="none" stroke="#2f4170" stroke-width="1.9" stroke-linejoin="round" />
<polyline points="323.00,419.30 324.90,422.00 327.20,426.60 328.80,430.50 330.30,435.10 332.60,441.20 334.20,445.80 336.50,452.80 339.50,461.20 340.20,464.40" fill="none" stroke="#a8254a" stroke-width="1.1" stroke-linejoin="round" />
<polyline points="340.20,464.40 343.10,469.20 346.00,473.10 348.80,478.80 351.70,482.70 355.60,485.60 360.40,488.50 365.20,490.40 373.50,494.50 384.00,498.20 398.90,501.30 411.50,505.10 423.00,507.40 446.20,508.80 457.70,510.40 476.20,511.50 479.60,512.90 498.10,513.40" fill="none" stroke="#a8254a" stroke-width="1.9" stroke-linejoin="round" />
<path d="M360.00,487.34v3.20M370.00,491.81v3.20M380.00,493.63v3.20M390.00,494.58v3.20M400.00,495.21v3.20M410.00,495.53v3.20M420.00,495.71v3.20M440.00,495.94v3.20M450.00,495.98v3.20M460.00,496.02v3.20M470.00,496.05v3.20M478.00,496.08v3.20" stroke="#4e4636" stroke-width="0.8" fill="none"/>
<polyline points="62.60,607.20 62.80,615.70 63.80,630.10 65.20,639.80 66.40,650.60 68.20,659.00 70.00,667.50 72.50,671.10 73.70,675.90 77.30,680.70 82.10,684.30 86.90,687.30 92.90,689.20 97.80,691.60" fill="none" stroke="#2f4170" stroke-width="1.6" stroke-linejoin="round" />
<polyline points="92.90,689.20 97.80,691.60 108.00,692.20 120.00,692.10 144.20,692.90 146.90,694.00 165.80,694.00 168.50,695.60 177.90,696.20 181.90,698.80 239.80,698.80" fill="none" stroke="#2f4170" stroke-width="1.1" stroke-linejoin="round" />
<path d="M98.00,690.01v3.20M101.00,690.19v3.20M104.00,690.36v3.20M108.00,690.60v3.20M112.00,690.57v3.20M115.00,690.54v3.20M118.00,690.52v3.20M124.00,690.63v3.20M130.00,690.83v3.20M136.00,691.03v3.20M140.00,691.16v3.20M143.00,691.26v3.20M150.00,692.40v3.20M155.00,692.40v3.20M160.00,692.40v3.20M166.00,692.52v3.20M172.00,694.22v3.20M175.00,694.41v3.20M186.00,697.20v3.20M190.00,697.20v3.20M194.00,697.20v3.20M198.00,697.20v3.20M202.00,697.20v3.20M206.00,697.20v3.20M210.00,697.20v3.20M214.00,697.20v3.20M218.00,697.20v3.20M222.00,697.20v3.20M226.00,697.20v3.20M230.00,697.20v3.20M234.00,697.20v3.20M238.00,697.20v3.20" stroke="#2f4170" stroke-width="1.0" fill="none"/>
<path d="M61.37,610.00h2.60M61.44,613.00h2.60M61.59,617.00h2.60M61.80,620.00h2.60M62.08,624.00h2.60M62.28,627.00h2.60M62.63,631.00h2.60M63.06,634.00h2.60M63.64,638.00h2.60M64.14,642.00h2.60M64.59,646.00h2.60M65.03,650.00h2.60M65.83,654.00h2.60M66.69,658.00h2.60M67.54,662.00h2.60M68.59,667.00h2.60M71.42,672.00h2.60M72.48,676.00h2.60" stroke="#2f4170" stroke-width="1.0" fill="none"/>
<polyline points="324.10,614.50 325.20,640.00 326.00,660.00 326.50,701.30" fill="none" stroke="#82a862" stroke-width="1.1" stroke-linejoin="round" />
<polyline points="324.10,614.50 325.20,640.00 326.00,658.60 328.00,671.70 331.20,689.70 334.30,690.80 335.40,695.40 418.00,695.40" fill="none" stroke="#4e4636" stroke-width="1.2" stroke-linejoin="round" />
<polyline points="324.10,614.50 325.20,629.70 326.70,640.50 328.10,648.50 329.90,657.20 331.20,663.30 333.30,666.40 336.40,673.80 348.10,676.00 355.50,678.50 360.80,680.20 369.20,680.80 386.20,681.30 388.30,683.40 405.80,683.80 427.70,683.80 430.00,685.40 440.40,686.10 442.70,688.80 500.40,688.80" fill="none" stroke="#2f4170" stroke-width="1.3" stroke-linejoin="round" />
<polyline points="324.10,614.50 325.20,629.70 326.70,640.50 328.10,648.50 329.90,657.20 332.20,667.50 335.40,680.20 339.60,686.50 341.70,692.90 346.00,698.20 350.20,702.40 354.40,704.50 356.50,707.30 359.70,708.80 439.70,708.80 439.70,713.80 494.60,713.80" fill="none" stroke="#a8254a" stroke-width="1.5" stroke-linejoin="round" />
<path d="M342.00,673.35v3.00M352.00,675.82v3.00M364.00,678.93v3.00M374.00,679.44v3.00M380.00,679.62v3.00M394.00,682.03v3.00M398.00,682.12v3.00M402.00,682.21v3.00M410.00,682.30v3.00M414.00,682.30v3.00M418.00,682.30v3.00M424.00,682.30v3.00M436.00,684.30v3.00M446.00,687.30v3.00M452.00,687.30v3.00M458.00,687.30v3.00M464.00,687.30v3.00M470.00,687.30v3.00M476.00,687.30v3.00M482.00,687.30v3.00M486.00,687.30v3.00M490.00,687.30v3.00M494.00,687.30v3.00M498.00,687.30v3.00" stroke="#2f4170" stroke-width="0.9" fill="none"/>
<path d="M366.00,707.30v3.00M376.00,707.30v3.00M384.00,707.30v3.00M392.00,707.30v3.00M400.00,707.30v3.00M408.00,707.30v3.00M416.00,707.30v3.00M424.00,707.30v3.00M432.00,707.30v3.00M452.00,712.30v3.00M465.00,712.30v3.00M490.00,712.30v3.00M494.00,712.30v3.00" stroke="#a8254a" stroke-width="0.9" fill="none"/>
<path d="M344.00,693.90v3.00M350.00,693.90v3.00M356.00,693.90v3.00M362.00,693.90v3.00M380.00,693.90v3.00M395.00,693.90v3.00M410.00,693.90v3.00" stroke="#4e4636" stroke-width="0.9" fill="none"/>
<text x="356.00" y="190.80" font-size="7.4" text-anchor="start" font-weight="normal" fill="#222" textLength="26.5" lengthAdjust="spacingAndGlyphs"  stroke="#222" stroke-width="0.05">groups4</text>
<line x1="388.40" y1="188.00" x2="404.50" y2="188.00" stroke="#2f4170" stroke-width="1.2"/>
<text x="405.00" y="190.80" font-size="7.4" text-anchor="start" font-weight="normal" fill="#222" textLength="3.8" lengthAdjust="spacingAndGlyphs"  stroke="#222" stroke-width="0.2">1</text>
<line x1="416.30" y1="188.00" x2="433.00" y2="188.00" stroke="#a8254a" stroke-width="1.2"/>
<text x="433.50" y="190.80" font-size="7.4" text-anchor="start" font-weight="normal" fill="#222" textLength="3.8" lengthAdjust="spacingAndGlyphs"  stroke="#222" stroke-width="0.2">2</text>
<line x1="444.20" y1="188.00" x2="461.00" y2="188.00" stroke="#82a862" stroke-width="1.2"/>
<text x="461.50" y="190.80" font-size="7.4" text-anchor="start" font-weight="normal" fill="#222" textLength="3.8" lengthAdjust="spacingAndGlyphs"  stroke="#222" stroke-width="0.2">3</text>
<text x="355.00" y="385.60" font-size="7.4" text-anchor="start" font-weight="normal" fill="#222" textLength="26.3" lengthAdjust="spacingAndGlyphs"  stroke="#222" stroke-width="0.05">groups4</text>
<line x1="388.00" y1="382.80" x2="404.80" y2="382.80" stroke="#2f4170" stroke-width="1.2"/>
<text x="405.30" y="385.60" font-size="7.4" text-anchor="start" font-weight="normal" fill="#222" textLength="3.8" lengthAdjust="spacingAndGlyphs"  stroke="#222" stroke-width="0.2">1</text>
<line x1="415.00" y1="382.80" x2="431.70" y2="382.80" stroke="#a8254a" stroke-width="1.2"/>
<text x="432.20" y="385.60" font-size="7.4" text-anchor="start" font-weight="normal" fill="#222" textLength="3.8" lengthAdjust="spacingAndGlyphs"  stroke="#222" stroke-width="0.2">2</text>
<line x1="443.00" y1="382.80" x2="459.60" y2="382.80" stroke="#82a862" stroke-width="1.2"/>
<text x="460.10" y="385.60" font-size="7.4" text-anchor="start" font-weight="normal" fill="#222" textLength="3.8" lengthAdjust="spacingAndGlyphs"  stroke="#222" stroke-width="0.2">3</text>
<text x="332.50" y="581.50" font-size="7.4" text-anchor="start" font-weight="normal" fill="#222" textLength="43.2" lengthAdjust="spacingAndGlyphs"  stroke="#222" stroke-width="0.05">chemo_group</text>
<line x1="382.50" y1="578.70" x2="397.50" y2="578.70" stroke="#2f4170" stroke-width="1.2"/>
<text x="398.00" y="581.50" font-size="7.4" text-anchor="start" font-weight="normal" fill="#222" textLength="3.8" lengthAdjust="spacingAndGlyphs"  stroke="#222" stroke-width="0.2">1</text>
<line x1="409.60" y1="578.70" x2="427.10" y2="578.70" stroke="#a8254a" stroke-width="1.2"/>
<text x="427.60" y="581.50" font-size="7.4" text-anchor="start" font-weight="normal" fill="#222" textLength="3.8" lengthAdjust="spacingAndGlyphs"  stroke="#222" stroke-width="0.2">2</text>
<line x1="437.90" y1="578.70" x2="455.40" y2="578.70" stroke="#82a862" stroke-width="1.2"/>
<text x="455.90" y="581.50" font-size="7.4" text-anchor="start" font-weight="normal" fill="#222" textLength="3.8" lengthAdjust="spacingAndGlyphs"  stroke="#222" stroke-width="0.2">3</text>
<line x1="466.20" y1="578.70" x2="483.70" y2="578.70" stroke="#4e4636" stroke-width="1.2"/>
<text x="484.20" y="581.50" font-size="7.4" text-anchor="start" font-weight="normal" fill="#222" textLength="3.8" lengthAdjust="spacingAndGlyphs"  stroke="#222" stroke-width="0.2">4</text>
<text x="333.50" y="775.50" font-size="7.4" text-anchor="start" font-weight="normal" fill="#222" textLength="44.2" lengthAdjust="spacingAndGlyphs"  stroke="#222" stroke-width="0.05">chemo_group</text>
<line x1="381.50" y1="772.70" x2="398.80" y2="772.70" stroke="#2f4170" stroke-width="1.2"/>
<text x="399.30" y="775.50" font-size="7.4" text-anchor="start" font-weight="normal" fill="#222" textLength="3.8" lengthAdjust="spacingAndGlyphs"  stroke="#222" stroke-width="0.2">1</text>
<line x1="412.30" y1="772.70" x2="427.70" y2="772.70" stroke="#a8254a" stroke-width="1.2"/>
<text x="428.20" y="775.50" font-size="7.4" text-anchor="start" font-weight="normal" fill="#222" textLength="3.8" lengthAdjust="spacingAndGlyphs"  stroke="#222" stroke-width="0.2">2</text>
<line x1="439.20" y1="772.70" x2="454.60" y2="772.70" stroke="#82a862" stroke-width="1.2"/>
<text x="455.10" y="775.50" font-size="7.4" text-anchor="start" font-weight="normal" fill="#222" textLength="3.8" lengthAdjust="spacingAndGlyphs"  stroke="#222" stroke-width="0.2">3</text>
<line x1="468.00" y1="772.70" x2="483.50" y2="772.70" stroke="#4e4636" stroke-width="1.2"/>
<text x="484.00" y="775.50" font-size="7.4" text-anchor="start" font-weight="normal" fill="#222" textLength="3.8" lengthAdjust="spacingAndGlyphs"  stroke="#222" stroke-width="0.2">4</text>
<text x="431.30" y="143.20" font-size="7.6" fill="#222" stroke="#222" stroke-width="0.15" textLength="79.2" lengthAdjust="spacingAndGlyphs"><tspan font-style="italic" fill="#777" stroke="none">P</tspan><tspan fill="#888" stroke="none">=</tspan>.496 for group 1 vs 2</text>
<text x="431.70" y="338.20" font-size="7.6" fill="#222" stroke="#222" stroke-width="0.15" textLength="78.9" lengthAdjust="spacingAndGlyphs"><tspan font-style="italic" fill="#777" stroke="none">P</tspan><tspan fill="#888" stroke="none">=</tspan>.127 for group 1 vs 2</text>
<text x="426.30" y="530.40" font-size="7.6" fill="#222" stroke="#222" stroke-width="0.15" textLength="79.7" lengthAdjust="spacingAndGlyphs"><tspan font-style="italic" fill="#777" stroke="none">P</tspan><tspan fill="#888" stroke="none">=</tspan>.006 for group 1 vs 2</text>
<text x="427.70" y="729.40" font-size="7.6" fill="#222" stroke="#222" stroke-width="0.15" textLength="79.6" lengthAdjust="spacingAndGlyphs"><tspan font-style="italic" fill="#777" stroke="none">P</tspan><tspan fill="#888" stroke="none">&lt;</tspan>.001 for group 1 vs 2</text>
<text x="176.30" y="794.40" font-size="7.4" text-anchor="start" font-weight="normal" fill="#222" textLength="125.7" lengthAdjust="spacingAndGlyphs"  stroke="#222" stroke-width="0.1">Group 1: CHOP or CHOP-like regimen</text>
<text x="176.30" y="802.80" font-size="7.4" text-anchor="start" font-weight="normal" fill="#222" textLength="166.1" lengthAdjust="spacingAndGlyphs"  stroke="#222" stroke-width="0.1">Group 2: CHOP or CHOP-like regimen + etoposide</text>
<text x="176.30" y="811.20" font-size="7.4" text-anchor="start" font-weight="normal" fill="#222" textLength="91.1" lengthAdjust="spacingAndGlyphs"  stroke="#222" stroke-width="0.1">Group 3: others + etoposide</text>
<text x="176.30" y="819.60" font-size="7.4" text-anchor="start" font-weight="normal" fill="#222" textLength="50.7" lengthAdjust="spacingAndGlyphs"  stroke="#222" stroke-width="0.1">Group 4: others</text>
<rect x="0" y="0" width="1.7" height="830" fill="#000"/><rect x="0" y="0" width="520" height="1.6" fill="#000"/><rect x="518.2" y="0" width="1.8" height="830" fill="#000"/><rect x="0" y="828.4" width="520" height="1.6" fill="#000"/>
</svg>
</body></html>
